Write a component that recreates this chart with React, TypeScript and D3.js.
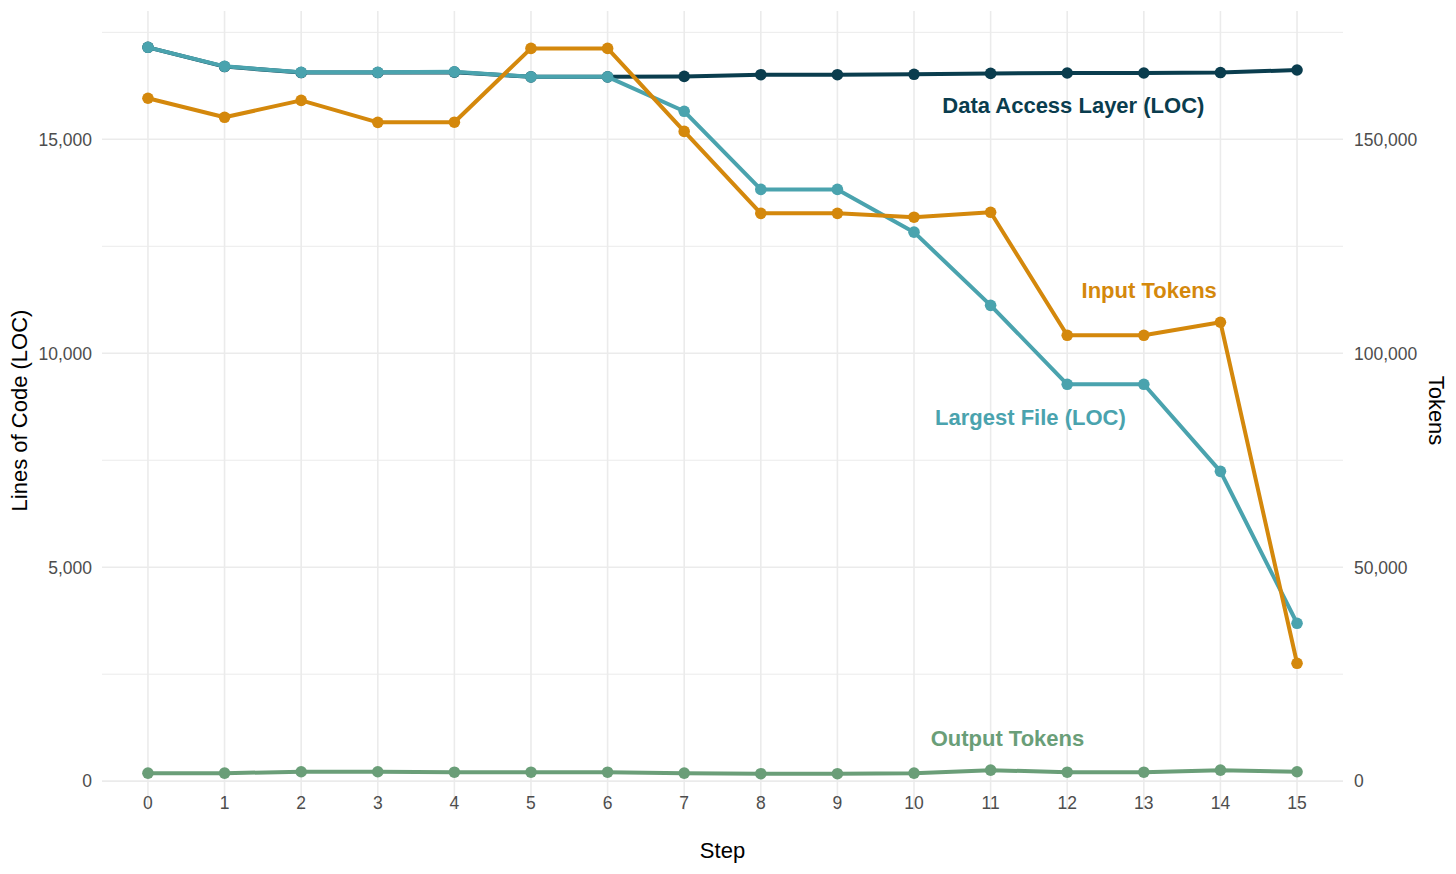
import React from 'react';
import * as d3 from 'd3';

const steps = d3.range(0, 16);

// Lines of code (left axis)
const dataAccessLayer = [17150, 16700, 16560, 16560, 16570, 16460, 16460, 16470, 16510, 16510, 16520, 16540, 16550, 16550, 16560, 16620];
const largestFile = [17150, 16705, 16565, 16565, 16577, 16460, 16460, 15655, 13830, 13830, 12830, 11120, 9275, 9275, 7240, 3690];

// Tokens (right axis, 10x the left axis)
const inputTokens = [159600, 155150, 159100, 153970, 154000, 171250, 171250, 151850, 132700, 132700, 131800, 132950, 104200, 104200, 107250, 27550];
const outputTokens = [1870, 1870, 2200, 2200, 2100, 2100, 2100, 1870, 1750, 1750, 1870, 2570, 2100, 2100, 2570, 2200];

const tokenRatio = 10;
const locTicks = [0, 5000, 10000, 15000];
const locMinor = [2500, 7500, 12500, 17500];

const W = 1456;
const H = 874;
const panel = { left: 102, right: 1343, top: 11, bottom: 810 };

const colors = {
  dal: '#0a3d4e',
  largest: '#4aa3ae',
  input: '#d4880c',
  output: '#6a9e78',
};

const series = [
  { key: 'dal', values: dataAccessLayer, color: colors.dal },
  { key: 'largest', values: largestFile, color: colors.largest },
  { key: 'input', values: inputTokens.map(v => v / tokenRatio), color: colors.input },
  { key: 'output', values: outputTokens.map(v => v / tokenRatio), color: colors.output },
];

const labels = [
  { text: 'Data Access Layer (LOC)', step: 12.08, value: 15800, color: colors.dal },
  { text: 'Input Tokens', step: 13.07, value: 11480, color: colors.input },
  { text: 'Largest File (LOC)', step: 11.52, value: 8500, color: colors.largest },
  { text: 'Output Tokens', step: 11.22, value: 1000, color: colors.output },
];

const fmt = d3.format(',');
const font = '"Liberation Sans", Arial, Helvetica, sans-serif';

export default function App() {
  const allVals = series.flatMap(s => s.values);
  const lo = d3.min(allVals)!;
  const hi = d3.max(allVals)!;
  const pad = (hi - lo) * 0.05;

  const x = d3.scaleLinear().domain([-0.6, 15.6]).range([panel.left, panel.right]);
  const y = d3.scaleLinear().domain([lo - pad, hi + pad]).range([panel.bottom, panel.top]);

  const line = d3.line<number>()
    .x((_, i) => x(steps[i]))
    .y(d => y(d));

  return (
    <svg width={W} height={H} style={{ position: 'absolute', left: 0, top: 0, background: '#fff' }} fontFamily={font}>
      <g>
        {locMinor.map(v => (
          <line key={'mn' + v} x1={panel.left} x2={panel.right} y1={y(v)} y2={y(v)} stroke="#ebebeb" strokeWidth={1} />
        ))}
        {locTicks.map(v => (
          <line key={'mj' + v} x1={panel.left} x2={panel.right} y1={y(v)} y2={y(v)} stroke="#ebebeb" strokeWidth={1.6} />
        ))}
        {steps.map(s => (
          <line key={'vx' + s} x1={x(s)} x2={x(s)} y1={panel.top} y2={panel.bottom} stroke="#ebebeb" strokeWidth={1.6} />
        ))}
      </g>

      {series.map(s => (
        <g key={s.key}>
          <path d={line(s.values) ?? ''} fill="none" stroke={s.color} strokeWidth={4} strokeLinejoin="round" />
          {s.values.map((v, i) => (
            <circle key={i} cx={x(steps[i])} cy={y(v)} r={5.8} fill={s.color} />
          ))}
        </g>
      ))}

      {labels.map(l => (
        <text key={l.text} x={x(l.step)} y={y(l.value)} dy="0.36em" textAnchor="middle" fill={l.color}
          fontWeight="bold" fontSize={22}>{l.text}</text>
      ))}

      <g fontSize={17.5} fill="#4d4d4d">
        {locTicks.map(v => (
          <text key={'lt' + v} x={panel.left - 10} y={y(v)} dy="0.36em" textAnchor="end">{fmt(v)}</text>
        ))}
        {locTicks.map(v => (
          <text key={'rt' + v} x={panel.right + 11} y={y(v)} dy="0.36em" textAnchor="start">{fmt(v * tokenRatio)}</text>
        ))}
        {steps.map(s => (
          <text key={'xt' + s} x={x(s)} y={panel.bottom - 7} dy="0.36em" textAnchor="middle">{s}</text>
        ))}
      </g>

      <text x={(panel.left + panel.right) / 2} y={858} textAnchor="middle" fontSize={22} fill="#000">Step</text>
      <text transform={`translate(27,${(panel.top + panel.bottom) / 2}) rotate(-90)`} textAnchor="middle" fontSize={22} fill="#000">Lines of Code (LOC)</text>
      <text transform={`translate(1429,${(panel.top + panel.bottom) / 2}) rotate(90)`} textAnchor="middle" fontSize={22} fill="#000">Tokens</text>
    </svg>
  );
}
